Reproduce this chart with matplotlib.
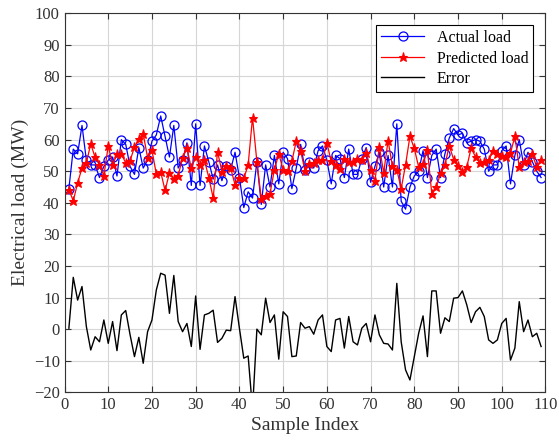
import matplotlib.pyplot as plt
import numpy as np

# ---- data ----
sample_index = list(range(1, 110))

actual_load = [
    44.5, 57.0, 55.5, 64.5, 53.5, 52.0, 52.0, 48.0, 51.5, 53.5,
    54.5, 48.5, 60.0, 58.5, 51.5, 49.0, 57.5, 51.0, 53.5, 59.5,
    61.5, 67.5, 61.0, 54.5, 64.5, 51.0, 53.5, 59.0, 45.5, 65.0,
    45.5, 58.0, 53.0, 47.5, 52.0, 47.0, 51.5, 50.5, 56.0, 48.0,
    38.5, 43.5, 41.5, 53.0, 39.5, 52.0, 45.0, 55.0, 46.0, 56.0,
    54.0, 44.5, 51.0, 58.5, 50.5, 53.0, 51.0, 56.5, 58.0, 53.5,
    46.0, 55.0, 54.0, 48.0, 57.0, 49.0, 49.0, 54.0, 57.5, 46.5,
    51.5, 56.0, 45.0, 55.0, 45.0, 65.0, 40.5, 38.0, 45.0, 48.5,
    50.0, 56.5, 48.0, 55.0, 57.0, 48.0, 55.5, 60.5, 63.5, 61.5,
    62.0, 59.0, 59.5, 60.0, 59.5, 57.0, 50.0, 52.0, 52.0, 56.5,
    58.0, 46.0, 55.0, 60.0, 52.0, 56.0, 53.0, 50.0, 48.0,
]

predicted_load = [
    44.2, 40.6, 46.3, 51.0, 52.7, 58.6, 54.4, 52.0, 48.6, 58.0,
    52.1, 55.3, 55.5, 52.6, 53.3, 57.7, 60.1, 61.8, 54.3, 56.6,
    49.1, 49.8, 43.9, 49.5, 47.5, 48.6, 54.3, 57.2, 51.0, 54.5,
    51.9, 53.5, 48.0, 41.5, 56.2, 49.9, 51.8, 51.0, 45.7, 47.7,
    47.7, 52.0, 67.0, 53.0, 41.3, 42.2, 42.9, 50.5, 55.5, 50.5,
    50.0, 53.2, 59.5, 56.4, 50.2, 52.2, 52.6, 53.6, 53.5, 59.0,
    53.1, 52.1, 50.6, 54.0, 53.0, 53.0, 54.0, 53.7, 55.7, 50.5,
    47.0, 57.8, 49.5, 59.7, 51.6, 50.5, 44.5, 52.0, 61.1, 57.2,
    51.3, 52.3, 56.7, 42.9, 44.9, 49.3, 51.9, 58.1, 53.7, 51.5,
    49.9, 51.3, 57.4, 54.5, 52.6, 53.0, 53.4, 56.5, 55.4, 54.7,
    54.6, 55.8, 61.0, 51.3, 52.8, 53.1, 55.4, 51.3, 53.5,
]

error = [
    0.3, 16.4, 9.2, 13.5, 0.8, -6.6, -2.4, -4.0, 2.9, -4.5,
    2.4, -6.8, 4.5, 5.9, -1.8, -8.7, -2.6, -10.8, -0.8, 2.9,
    12.4, 17.7, 17.1, 5.0, 17.0, 2.4, -0.8, 1.8, -5.5, 10.5,
    -6.4, 4.5, 5.0, 6.0, -4.2, -2.9, -0.3, -0.5, 10.3, 0.3,
    -9.2, -8.5, -25.5, 0.0, -1.8, 9.8, 2.1, 4.5, -9.5, 5.5,
    4.0, -8.7, -8.5, 2.1, 0.3, 0.8, -1.6, 2.9, 4.5, -5.5,
    -7.1, 2.9, 3.4, -6.0, 4.0, -4.0, -5.0, 0.3, 1.8, -4.0,
    4.5, -1.8, -4.5, -4.7, -6.6, 14.5, -4.0, -12.9, -16.1, -8.7,
    -1.3, 4.2, -8.7, 12.1, 12.1, -1.3, 3.6, 2.4, 9.8, 10.0,
    12.1, 7.7, 2.1, 5.5, 6.9, 4.0, -3.4, -4.5, -3.4, 1.8,
    3.4, -9.8, -6.0, 8.7, -0.8, 2.9, -2.4, -1.3, -5.5,
]

plt.rcParams['font.family'] = ['Liberation Serif', 'DejaVu Serif']

fig = plt.figure(figsize=(5.59, 4.48), dpi=100)
ax = fig.add_axes([0.1154, 0.1243, 0.8604, 0.846])

ax.plot(sample_index, actual_load, 'b-o', lw=0.9, markersize=6.5,
        markerfacecolor='none', markeredgewidth=0.9, label='Actual load')
ax.plot(sample_index, predicted_load, 'r-*', lw=0.9, markersize=6.5,
        markeredgewidth=0.8, label='Predicted load')
ax.plot(sample_index, error, 'k-', lw=1.0, label='Error')

ax.set_xlim(0, 110)
ax.set_ylim(-20, 100)
ax.set_xticks(np.arange(0, 111, 10))
ax.set_yticks(np.arange(-20, 101, 10))
ax.grid(True, color='#d6d6d6', lw=0.8)
ax.set_axisbelow(True)
ax.tick_params(direction='in', top=True, right=True, labelsize=12,
               length=4, color='#333333', labelcolor='#333333')
for s in ax.spines.values():
    s.set_color('#333333')
    s.set_linewidth(0.8)

ax.set_xlabel('Sample Index', fontsize=14, color='#333333', labelpad=3)
ax.set_ylabel('Electrical load (MW)', fontsize=14, color='#333333', labelpad=3)

leg = ax.legend(loc='upper right', fontsize=11.5, fancybox=False,
                edgecolor='black', framealpha=1, borderaxespad=0.75,
                handlelength=2.7, labelspacing=0.28, borderpad=0.3)
leg.get_frame().set_linewidth(0.8)

fig.savefig('out.png', dpi=100)
